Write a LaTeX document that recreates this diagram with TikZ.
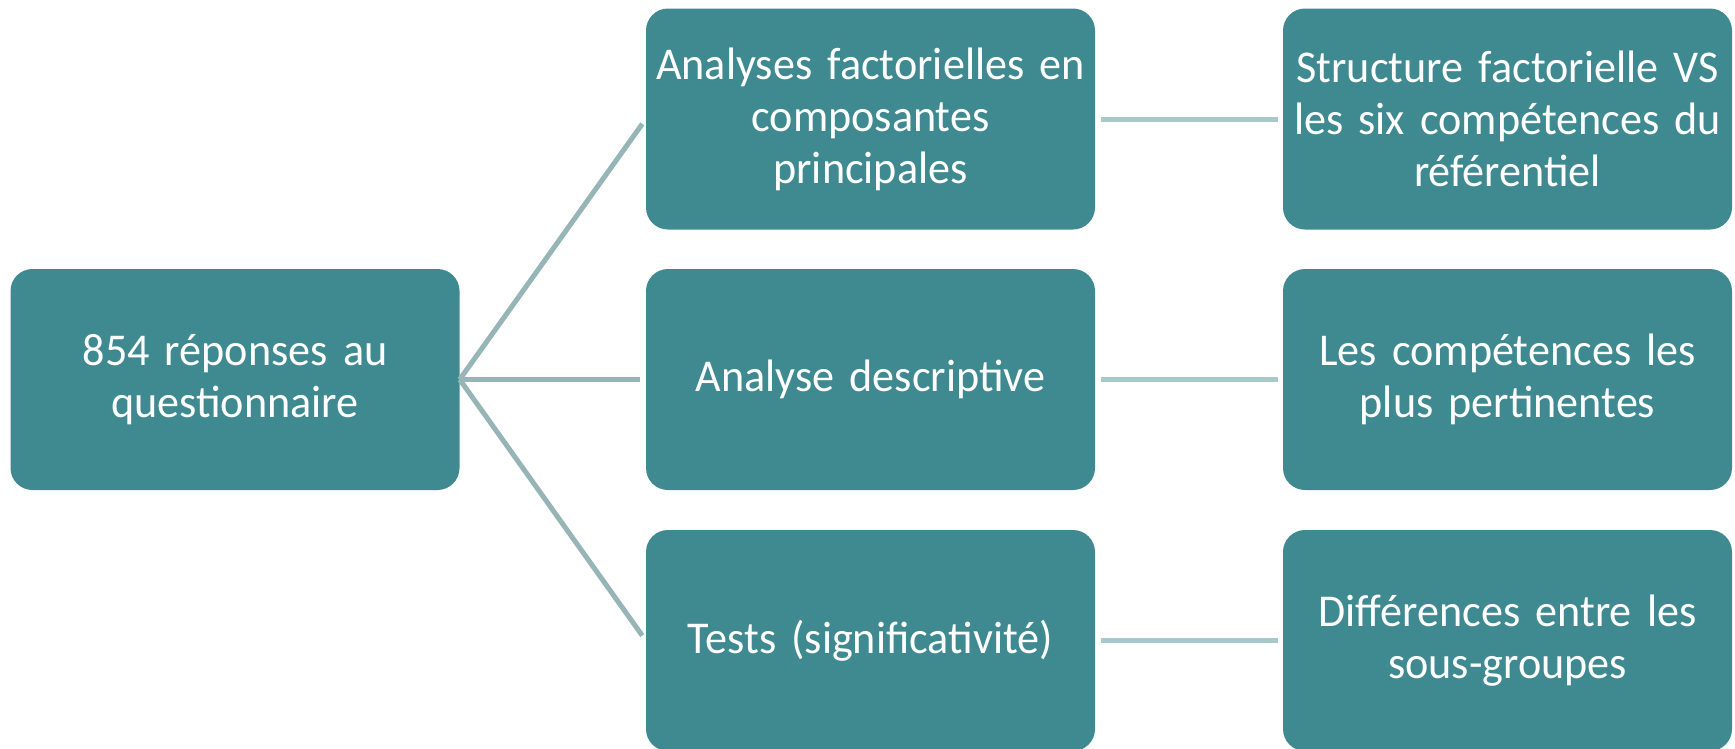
\documentclass[tikz,border=0pt]{standalone}
\usepackage{fontspec}
\setmainfont{Carlito}[FakeStretch=0.97,WordSpace=0.5]
\definecolor{boxfill}{HTML}{3E8A90}
\definecolor{linkL}{HTML}{97B5B7}
\definecolor{linkR}{HTML}{A8C9CC}
\tikzset{
  stepbox/.style={rectangle, rounded corners=22pt, fill=boxfill, text=white,
    minimum width=449pt, minimum height=221pt, inner sep=0pt, text width=445pt,
    align=center, font=\fontsize{45.5}{52}\selectfont},
  linkleft/.style={draw=linkL, line width=5pt, shorten >=6pt},
  linkright/.style={draw=linkR, line width=5pt, shorten <=6pt, shorten >=5pt}
}
\begin{document}
\begin{tikzpicture}[x=1pt,y=-1pt]
\useasboundingbox (0,0) rectangle (1735,748);
\node[stepbox] (left) at (235,379.5) {854 réponses au\\questionnaire};
\node[stepbox] (m1) at (870.5,119) {Analyses factorielles en\\composantes\\principales};
\node[stepbox] (m2) at (870.5,379.5) {Analyse descriptive};
\node[stepbox] (m3) at (870.5,640.5) {Tests (significativité)};
\node[stepbox] (r1) at (1507.5,119) {Structure factorielle VS\\les six compétences du\\référentiel};
\node[stepbox] (r2) at (1507.5,379.5) {Les compétences les\\plus pertinentes};
\node[stepbox] (r3) at (1507.5,640.5) {Différences entre les\\sous-groupes};
\draw[linkleft] (left.east) -- (m1.west);
\draw[linkleft] (left.east) -- (m2.west);
\draw[linkleft] (left.east) -- (m3.west);
\draw[linkright] (m1.east) -- (r1.west);
\draw[linkright] (m2.east) -- (r2.west);
\draw[linkright] (m3.east) -- (r3.west);
\end{tikzpicture}
\end{document}
